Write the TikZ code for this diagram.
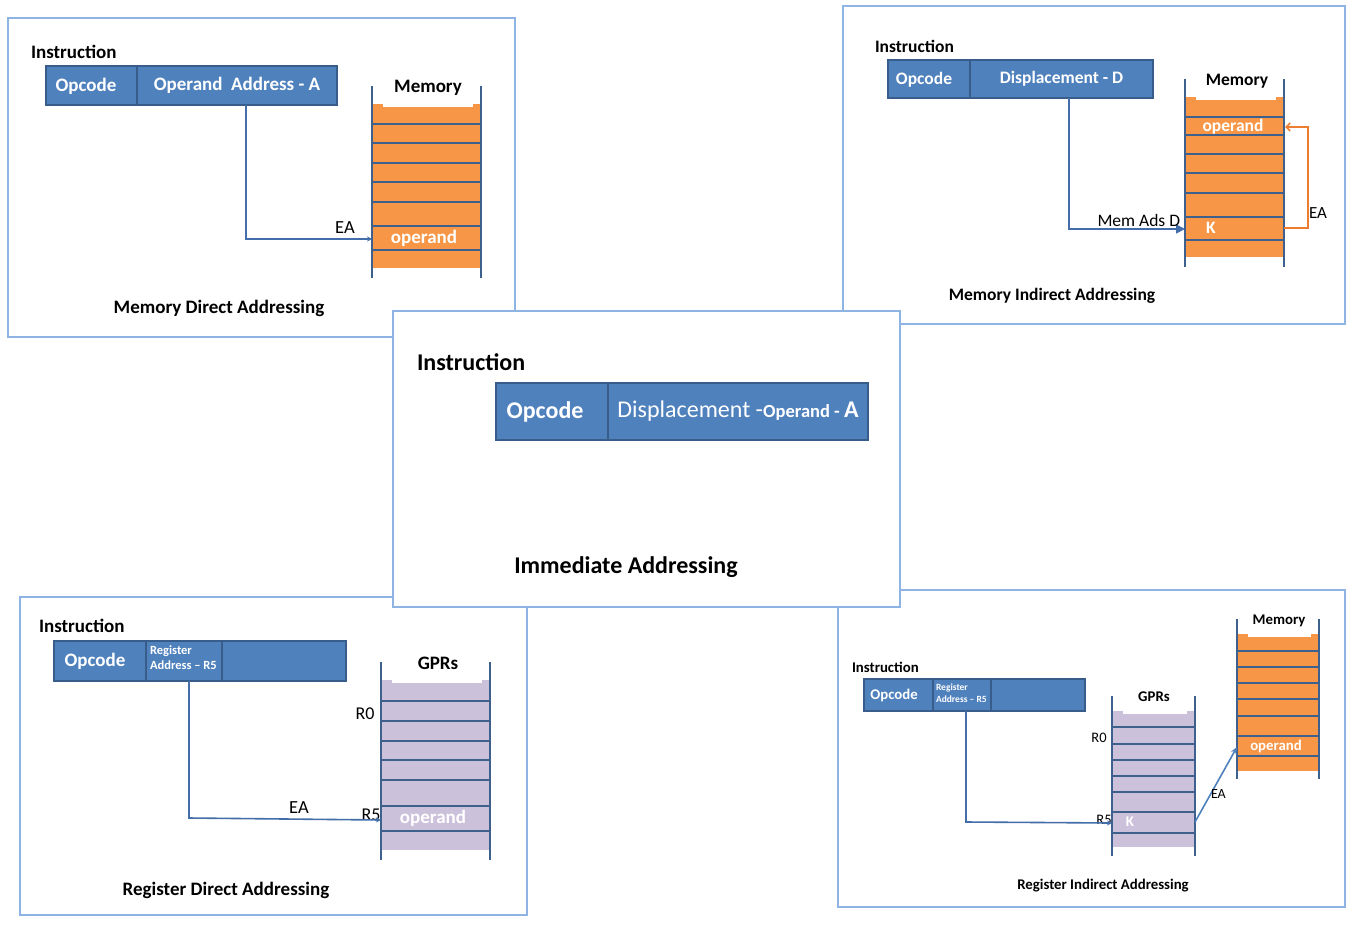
\documentclass[tikz,border=0pt]{standalone}
\usepackage{fontspec}
\setmainfont{Carlito}
\usetikzlibrary{arrows.meta}
\definecolor{panel}{RGB}{141,180,226}
\definecolor{barfill}{RGB}{79,129,189}
\definecolor{barline}{RGB}{56,93,138}
\definecolor{stackline}{RGB}{62,96,140}
\definecolor{arrowblue}{RGB}{68,110,170}
\definecolor{lightarrow}{RGB}{79,129,189}
\definecolor{orangefill}{RGB}{247,150,70}
\definecolor{orangeline}{RGB}{237,125,49}
\definecolor{lavender}{RGB}{204,193,218}
\tikzset{
  panelbox/.style={draw=panel, line width=1.5pt, fill=white},
  field/.style={draw=barline, fill=barfill, line width=1.8pt, inner sep=0pt, outer sep=0pt, anchor=north west, text=white},
  bsz/.style={font=\bfseries\fontsize{#1}{#1}\selectfont},
  rsz/.style={font=\fontsize{#1}{#1}\selectfont},
  txt/.style={inner sep=0pt, outer sep=0pt, text=black},
  wtxt/.style={inner sep=0pt, outer sep=0pt, text=white},
  arr/.style={draw=arrowblue, line width=1.6pt, -{Stealth[length=5pt,width=5pt]}},
  bigarr/.style={draw=arrowblue, line width=1.6pt, -{Triangle[length=9pt,width=9pt]}},
  orarr/.style={draw=orangeline, line width=1.6pt, -{Straight Barb[length=4pt,width=8pt]}},
  lightarr/.style={draw=lightarrow, line width=1.6pt, -{Stealth[length=7pt,width=6pt]}},
}
\newcommand\drawstackbox[8]{%
  \fill[#7] (#1,#5) rectangle (#2,#6);
  \fill[white] ({#1+11},#5) rectangle ({#2-8},{#5+2.5});
  \foreach \yy in {#8} \draw[stackline, line width=1.8pt] (#1,\yy) -- (#2,\yy);
  \draw[stackline, line width=1.8pt] (#1,#3) -- (#1,#4) (#2,#3) -- (#2,#4);
}
\begin{document}
\begin{tikzpicture}[x=1pt,y=-1pt]
\useasboundingbox (0,0) rectangle (1354,926);
\fill[white] (0,0) rectangle (1354,926);
% panels
\draw[panelbox] (8,18) rectangle (515,337);
\draw[panelbox] (843,6) rectangle (1345,324);
\draw[panelbox] (20,597) rectangle (527,915);
\draw[panelbox] (838,590) rectangle (1345,907);
\draw[panelbox] (393,311) rectangle (900,607);

% ---------- Memory Direct Addressing ----------
\node[txt, bsz=19, anchor=west] (tlins) at (31,52) {Instruction};
\node[field, minimum width=91pt, minimum height=39pt] (tlop) at (46,66) {};
\node[wtxt, bsz=19] (tlopt) at (86,86) {Opcode};
\node[field, bsz=19, minimum width=200pt, minimum height=39pt] (tladdr) at (137,66) {Operand\ \ Address - A};
\drawstackbox{372}{481}{86}{278}{104}{268}{orangefill}{124,143,163,182,202,226,250}
\node[txt, bsz=19] (tlmem) at (428,88) {Memory};
\node[wtxt, bsz=19] (tlopd) at (424,238) {operand};
\coordinate (tlbend) at (246,239);
\coordinate (tlea) at (372,239);
\draw[arr] (tladdr.south -| tlbend) -- (tlbend) -- (tlea);
\node[txt, rsz=18.5] (tleal) at (345,228) {EA};
\node[txt, bsz=19] (tltitle) at (219,308) {Memory Direct Addressing};

% ---------- Memory Indirect Addressing ----------
\node[txt, bsz=17.5, anchor=west] (trins) at (875,46) {Instruction};
\node[field, minimum width=82pt, minimum height=38pt] (trop) at (888,60) {};
\node[wtxt, bsz=17.5] (tropt) at (924,80) {Opcode};
\node[field, bsz=17.5, minimum width=183pt, minimum height=38pt] (trdisp) at (970,60) {Displacement - D};
\drawstackbox{1185}{1284}{79}{267}{97}{257}{orangefill}{117,135,154,173,193,217,240}
\node[txt, bsz=17.5] (trmem) at (1237,81) {Memory};
\node[wtxt, bsz=17.5] (tropd) at (1233,127) {operand};
\node[wtxt, bsz=17.5] (trk) at (1211,228) {K};
\coordinate (trbend) at (1069,229);
\coordinate (trK) at (1185,229);
\draw[bigarr] (trdisp.south -| trbend) -- (trbend) -- (trK);
\node[txt, rsz=17.5, anchor=east] (trmemads) at (1180,220) {Mem Ads D};
\coordinate (trKr) at (1284,228);
\coordinate (trside) at (1308,178);
\coordinate (tropr) at (1285,127);
\draw[orarr] (trKr) -| (trside) |- (tropr);
\node[txt, rsz=17, anchor=west] (treal) at (1309,213) {EA};
\node[txt, bsz=17.5] (trtitle) at (1052,296) {Memory Indirect Addressing};

% ---------- Immediate Addressing ----------
\node[txt, bsz=24, anchor=west] (cins) at (417,362) {Instruction};
\node[field, minimum width=112pt, minimum height=57pt] (cop) at (496,383) {};
\node[wtxt, bsz=24] (copt) at (545,412) {Opcode};
\node[field, minimum width=260pt, minimum height=57pt] (cdisp) at (608,383) {{\fontsize{24}{24}\selectfont Displacement -}{\bfseries\fontsize{18.5}{24}\selectfont Operand - }{\bfseries\fontsize{24}{24}\selectfont A}};
\node[txt, bsz=24] (ctitle) at (626,567) {Immediate Addressing};

% ---------- Register Direct Addressing ----------
\node[txt, bsz=19, anchor=west] (blins) at (39,626) {Instruction};
\node[field, minimum width=92pt, minimum height=40pt] (blop) at (54,641) {};
\node[wtxt, bsz=19] (blopt) at (95,661) {Opcode};
\node[field, minimum width=76pt, minimum height=40pt] (blreg) at (146,641) {};
\node[field, minimum width=124pt, minimum height=40pt] (blrest) at (222,641) {};
\node[wtxt, anchor=west, align=left, font=\bfseries\fontsize{12.5}{15}\selectfont] (blregt) at (150,658) {Register\\Address -- R5};
\drawstackbox{381}{490}{662}{860}{680}{850}{lavender}{701,721,741,760,780,806,831}
\node[txt, bsz=19] (blgpr) at (438,663) {GPRs};
\node[txt, rsz=18] (blr0) at (365,714) {R0};
\node[txt, rsz=18] (blr5) at (371,815) {R5};
\node[wtxt, bsz=19] (blopd) at (433,818) {operand};
\coordinate (blbend) at (189,818);
\coordinate (blR5) at (381,820);
\draw[arr] (blreg.south -| blbend) -- (blbend) -- (blR5);
\node[txt, rsz=18.5] (bleal) at (299,808) {EA};
\node[txt, bsz=19] (bltitle) at (226,890) {Register Direct Addressing};

% ---------- Register Indirect Addressing ----------
\node[txt, bsz=14.8, anchor=west] (brins) at (852,667) {Instruction};
\node[field, minimum width=69pt, minimum height=32pt] (brop) at (864,679) {};
\node[wtxt, bsz=14.8] (bropt) at (894,695.5) {Opcode};
\node[field, minimum width=58pt, minimum height=32pt] (brreg) at (933,679) {};
\node[field, minimum width=94pt, minimum height=32pt] (brrest) at (991,679) {};
\node[wtxt, anchor=west, align=left, font=\bfseries\fontsize{9.5}{12}\selectfont] (brregt) at (936,693) {Register\\Address -- R5};
\drawstackbox{1112}{1195}{696}{856}{711}{847}{lavender}{727,744,760,776,792,812,833}
\drawstackbox{1237}{1319}{619}{779}{634}{771}{orangefill}{651,667,683,699,716,736,756}
\node[txt, bsz=14.8] (brgpr) at (1154,697) {GPRs};
\node[txt, rsz=14.5] (brr0) at (1099,738) {R0};
\node[txt, rsz=14.5] (brr5) at (1104,820) {R5};
\node[wtxt, bsz=14.8] (brk) at (1130,822) {K};
\node[txt, bsz=14.8] (brmem) at (1279,621) {Memory};
\node[wtxt, bsz=14.8] (bropd) at (1276,746) {operand};
\coordinate (brbend) at (966,822);
\coordinate (brR5) at (1112,823);
\draw[arr] (brreg.south -| brbend) -- (brbend) -- (brR5);
\coordinate (brKr) at (1195,822);
\coordinate (bropl) at (1237,747);
\draw[lightarr] (brKr) -- (bropl);
\node[txt, rsz=14, anchor=west] (breal) at (1211,794) {EA};
\node[txt, bsz=14.8] (brtitle) at (1103,886) {Register Indirect Addressing};
\end{tikzpicture}
\end{document}
